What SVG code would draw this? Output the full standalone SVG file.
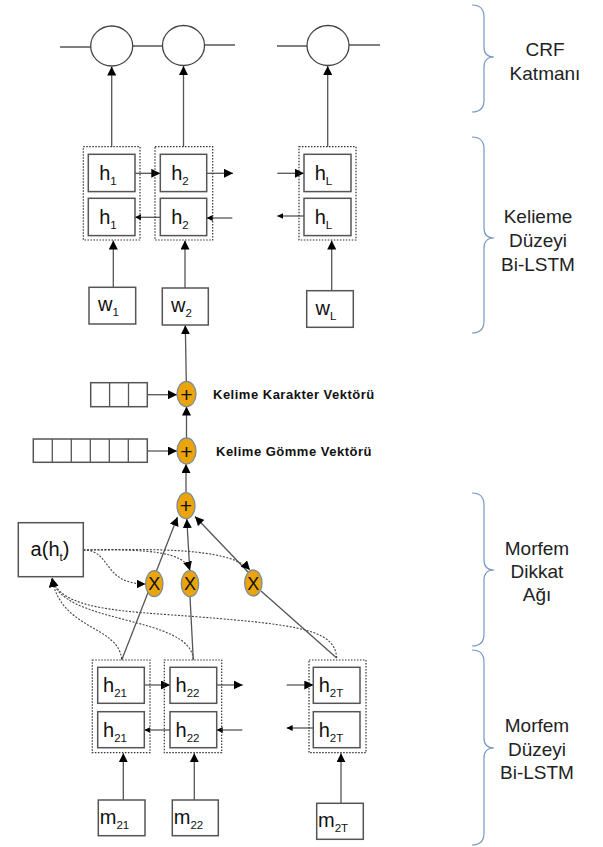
<svg xmlns="http://www.w3.org/2000/svg" width="603" height="847" viewBox="0 0 603 847">
<style>
text{font-family:"Liberation Sans",Arial,sans-serif;fill:#111}
.box{fill:#fff;stroke:#555;stroke-width:1.5}
.grp{fill:none;stroke:#333;stroke-width:1.2;stroke-dasharray:1.5 1.5}
.ln{fill:none;stroke:#555;stroke-width:1.3}
.dl{fill:none;stroke:#444;stroke-width:1.1;stroke-dasharray:2 1.5}
.crf{fill:#fff;stroke:#444;stroke-width:1.3}
.op{fill:#eba40c;stroke:#7d8d97;stroke-width:1.3}
.lbl{font-size:20px;text-anchor:middle}
.sub{font-size:11.5px}
.vt{font-size:13px;font-weight:bold;letter-spacing:0.5px}
.br{fill:none;stroke:#7896c4;stroke-width:1.2}
.bt{font-size:19px;text-anchor:middle;fill:#222}
</style>
<defs>
<marker id="a" viewBox="0 0 10 10" refX="10" refY="5" markerWidth="9" markerHeight="9" markerUnits="userSpaceOnUse" orient="auto"><path d="M0,0L10,5L0,10z" fill="#000"/></marker>
<marker id="s" viewBox="0 0 10 10" refX="10" refY="5" markerWidth="6" markerHeight="6" markerUnits="userSpaceOnUse" orient="auto"><path d="M0,0L10,5L0,10z" fill="#000"/></marker>
</defs>

<g id="connectors">
<path class="ln" d="M60,47H91M132.7,46H162.7M204.3,45H235M277,46H307M349,45H380" stroke="#333"/>
<path class="ln" d="M111.7,146.7V66.5" marker-end="url(#a)"/>
<path class="ln" d="M183.5,146.7V66" marker-end="url(#a)"/>
<path class="ln" d="M327.7,146.7V66" marker-end="url(#a)"/>
<path class="ln" d="M113.3,287.3V240.5" marker-end="url(#a)"/>
<path class="ln" d="M185,288V240.5" marker-end="url(#a)"/>
<path class="ln" d="M331.7,290.7V240.5" marker-end="url(#a)"/>
<path class="ln" d="M135,173.3H160.3" marker-end="url(#a)"/>
<path class="ln" d="M206.7,173.3H233" marker-end="url(#a)"/>
<path class="ln" d="M277.3,173.3H304" marker-end="url(#a)"/>
<path class="ln" d="M160.3,217.3H135" marker-end="url(#s)"/>
<path class="ln" d="M232.3,218H206.7" marker-end="url(#s)"/>
<path class="ln" d="M304,216H277.3" marker-end="url(#s)"/>
<path class="ln" d="M186.3,381.5L185.3,325.3" marker-end="url(#a)"/>
<path class="ln" d="M147.3,394.7H177" marker-end="url(#a)"/>
<path class="ln" d="M147.3,451H177" marker-end="url(#a)"/>
<path class="ln" d="M186.5,438.5V406.5" marker-end="url(#a)"/>
<path class="ln" d="M186,492.7V464" marker-end="url(#a)"/>
<path class="ln" d="M121.7,660L177.5,517" marker-end="url(#a)"/>
<path class="ln" d="M193.3,660L190,596.7"/>
<path class="ln" d="M189.8,570.7L186.8,519" marker-end="url(#a)"/>
<path class="ln" d="M336.7,658L261,591"/>
<path class="ln" d="M248,572L195,516.5" marker-end="url(#a)"/>
<path class="dl" d="M83.3,550C112,550 102,584 145.5,584" marker-end="url(#a)"/>
<path class="dl" d="M83.3,550C150,549 185,552 189.8,570.5" marker-end="url(#a)"/>
<path class="dl" d="M83.3,550C180,548 232,551 250,570" marker-end="url(#a)"/>
<path class="dl" d="M121.7,659C118,625 60,630 52,578" marker-end="url(#a)"/>
<path class="dl" d="M193.3,659C190,615 60,625 52,578" marker-end="url(#a)"/>
<path class="dl" d="M336.7,658C335,630 300,625 200,617C120,611 60,610 52,578" marker-end="url(#a)"/>
<path class="ln" d="M123.3,800V753.2" marker-end="url(#a)"/>
<path class="ln" d="M194.3,800V753.2" marker-end="url(#a)"/>
<path class="ln" d="M341,803.3V753.2" marker-end="url(#a)"/>
<path class="ln" d="M144.3,685H170" marker-end="url(#a)"/>
<path class="ln" d="M216.7,685H242.7" marker-end="url(#a)"/>
<path class="ln" d="M286.7,685H313.3" marker-end="url(#a)"/>
<path class="ln" d="M170,730H144.3" marker-end="url(#s)"/>
<path class="ln" d="M242.3,730H216.7" marker-end="url(#s)"/>
<path class="ln" d="M313.3,728H286.7" marker-end="url(#s)"/>
</g>

<g id="crf1"><ellipse class="crf" cx="111.7" cy="46" rx="21" ry="20"/></g>
<g id="crf2"><ellipse class="crf" cx="183.5" cy="45.5" rx="21" ry="20"/></g>
<g id="crf3"><ellipse class="crf" cx="328" cy="45.5" rx="21" ry="20"/></g>

<g id="wgroup1"><rect class="grp" x="83.3" y="146.7" width="56.7" height="93.3"/>
<rect class="box" x="88.3" y="154.3" width="46.7" height="37.3"/><text class="lbl" x="108" y="180">h<tspan class="sub" dy="5">1</tspan></text>
<rect class="box" x="88.3" y="198.3" width="46.7" height="37.3"/><text class="lbl" x="108" y="224">h<tspan class="sub" dy="5">1</tspan></text></g>
<g id="wgroup2"><rect class="grp" x="155" y="146.7" width="57.7" height="93.3"/>
<rect class="box" x="160.3" y="154.3" width="46.4" height="37.3"/><text class="lbl" x="180" y="180">h<tspan class="sub" dy="5">2</tspan></text>
<rect class="box" x="160.3" y="198.3" width="46.4" height="37.3"/><text class="lbl" x="180" y="224">h<tspan class="sub" dy="5">2</tspan></text></g>
<g id="wgroupL"><rect class="grp" x="299" y="146.7" width="57" height="93.3"/>
<rect class="box" x="304" y="154.3" width="47" height="37.3"/><text class="lbl" x="323.5" y="180">h<tspan class="sub" dy="5">L</tspan></text>
<rect class="box" x="304" y="198.3" width="47" height="37.3"/><text class="lbl" x="323.5" y="224">h<tspan class="sub" dy="5">L</tspan></text></g>

<g id="w1"><rect class="box" x="89" y="287.3" width="46.7" height="36.7"/><text class="lbl" x="108.5" y="311">w<tspan class="sub" dy="5">1</tspan></text></g>
<g id="w2"><rect class="box" x="162.3" y="288" width="46" height="37"/><text class="lbl" x="181.5" y="312">w<tspan class="sub" dy="5">2</tspan></text></g>
<g id="wL"><rect class="box" x="306.7" y="290.7" width="46.6" height="36.6"/><text class="lbl" x="326" y="314.5">w<tspan class="sub" dy="5">L</tspan></text></g>

<g id="charvec"><rect class="box" x="90.7" y="382.7" width="56.6" height="24" stroke-width="1.2"/><path class="ln" d="M109.6,382.7V406.7M128.5,382.7V406.7"/>
<text class="vt" x="213" y="399">Kelime Karakter Vektörü</text></g>
<g id="embvec"><rect class="box" x="33.3" y="439" width="114" height="23.3" stroke-width="1.2"/><path class="ln" d="M52.3,439V462.3M71.3,439V462.3M90.3,439V462.3M109.3,439V462.3M128.3,439V462.3"/>
<text class="vt" x="216" y="456">Kelime Gömme Vektörü</text></g>

<g id="plus1"><ellipse class="op" cx="186.5" cy="394" rx="9.5" ry="12.5"/><text x="186.5" y="401.5" font-size="21" text-anchor="middle">+</text></g>
<g id="plus2"><ellipse class="op" cx="186.5" cy="451" rx="9.5" ry="13"/><text x="186.5" y="458.5" font-size="21" text-anchor="middle">+</text></g>
<g id="plus3"><ellipse class="op" cx="186" cy="505.7" rx="9" ry="13"/><text x="186" y="513.2" font-size="21" text-anchor="middle">+</text></g>

<g id="att"><rect class="box" x="18.3" y="522.7" width="65" height="54"/><text class="lbl" x="50" y="556">a(h<tspan class="sub" dy="5">t</tspan><tspan dy="-5">)</tspan></text></g>

<g id="x1"><ellipse class="op" cx="154.3" cy="583.7" rx="8.7" ry="13"/><text x="154.3" y="590.3" font-size="18" text-anchor="middle">X</text></g>
<g id="x2"><ellipse class="op" cx="190" cy="583.7" rx="8.7" ry="13"/><text x="190" y="590.3" font-size="18" text-anchor="middle">X</text></g>
<g id="x3"><ellipse class="op" cx="253.3" cy="583" rx="8.7" ry="13"/><text x="253.3" y="589.6" font-size="18" text-anchor="middle">X</text></g>

<g id="mgroup1"><rect class="grp" x="92.3" y="660" width="57.7" height="92.7"/>
<rect class="box" x="97.7" y="667.3" width="46.6" height="36"/><text class="lbl" x="115" y="692">h<tspan class="sub" dy="5">21</tspan></text>
<rect class="box" x="97.7" y="711.7" width="46.6" height="36"/><text class="lbl" x="115" y="736.5">h<tspan class="sub" dy="5">21</tspan></text></g>
<g id="mgroup2"><rect class="grp" x="164.3" y="660" width="57.4" height="92.7"/>
<rect class="box" x="170" y="667.3" width="46.7" height="36"/><text class="lbl" x="187.5" y="692">h<tspan class="sub" dy="5">22</tspan></text>
<rect class="box" x="170" y="711.7" width="46.7" height="36"/><text class="lbl" x="187.5" y="736.5">h<tspan class="sub" dy="5">22</tspan></text></g>
<g id="mgroupT"><rect class="grp" x="309" y="660" width="57" height="92.7"/>
<rect class="box" x="313.3" y="667.3" width="46.7" height="36"/><text class="lbl" x="331" y="692">h<tspan class="sub" dy="5">2T</tspan></text>
<rect class="box" x="313.3" y="711.7" width="46.7" height="36"/><text class="lbl" x="331" y="736.5">h<tspan class="sub" dy="5">2T</tspan></text></g>

<g id="m21"><rect class="box" x="98.3" y="800" width="46.7" height="35.7"/><text class="lbl" x="114.5" y="824">m<tspan class="sub" dy="5">21</tspan></text></g>
<g id="m22"><rect class="box" x="172.3" y="800" width="46" height="35.7"/><text class="lbl" x="188.5" y="824">m<tspan class="sub" dy="5">22</tspan></text></g>
<g id="m2T"><rect class="box" x="316.7" y="803.3" width="46.6" height="36"/><text class="lbl" x="333" y="827">m<tspan class="sub" dy="5">2T</tspan></text></g>

<g id="brace-crf"><path class="br" d="M472,5Q484,5 484,17V47Q484,57 494,57Q484,57 484,67V100Q484,112 472,112"/>
<text class="bt" x="545" y="56">CRF</text><text class="bt" x="545" y="80">Katmanı</text></g>
<g id="brace-word"><path class="br" d="M472,137Q484,137 484,149V228Q484,238 494,238Q484,238 484,248V321Q484,333 472,333"/>
<text class="bt" x="538" y="223">Kelieme</text><text class="bt" x="538" y="247">Düzeyi</text><text class="bt" x="538" y="271">Bi-LSTM</text></g>
<g id="brace-att"><path class="br" d="M472,493Q484,493 484,505V560Q484,570 494,570Q484,570 484,580V634Q484,646 472,646"/>
<text class="bt" x="537" y="555">Morfem</text><text class="bt" x="537" y="578">Dikkat</text><text class="bt" x="537" y="601">Ağı</text></g>
<g id="brace-morph"><path class="br" d="M472,650Q484,650 484,662V738Q484,748 494,748Q484,748 484,758V833Q484,845 472,845"/>
<text class="bt" x="537" y="732">Morfem</text><text class="bt" x="537" y="756">Düzeyi</text><text class="bt" x="537" y="779">Bi-LSTM</text></g>
</svg>
